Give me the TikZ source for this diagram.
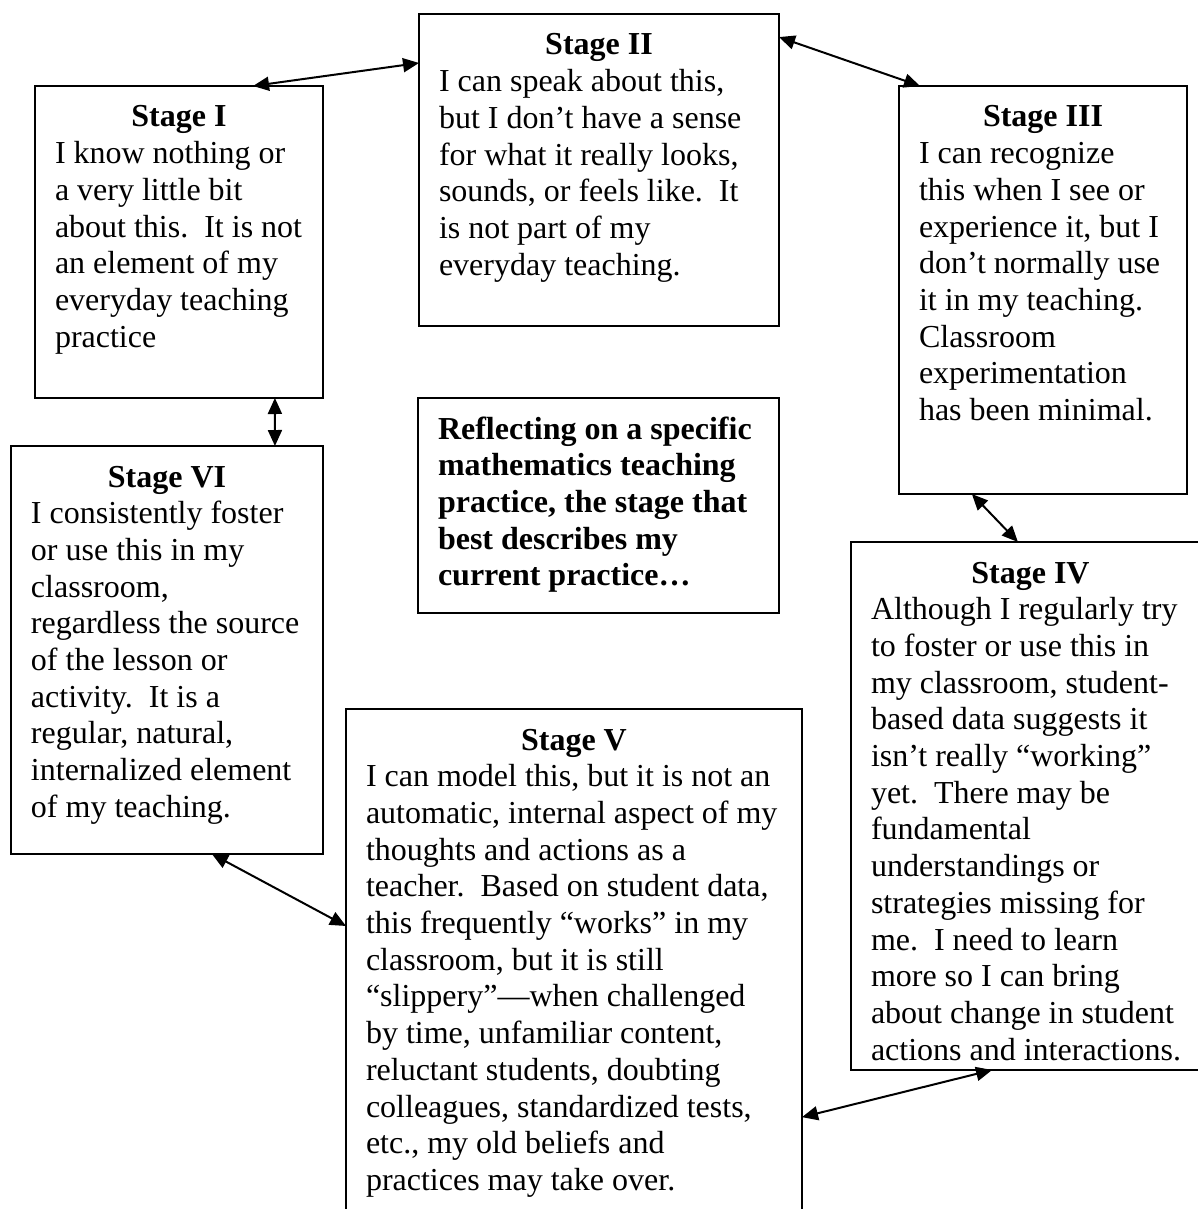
\documentclass[tikz,border=0pt]{standalone}
\usepackage{fontspec}
\setmainfont{Liberation Serif}
\usetikzlibrary{arrows.meta, calc}

\begin{document}
\begin{tikzpicture}[x=0.5pt, y=-0.5pt,
        stagebox/.style={draw, line width=1pt, outer sep=0pt, anchor=north west, align=flush left,
            inner xsep=10pt, inner ysep=0pt, text height=20.5pt,
            font=\fontsize{16}{18.35}\selectfont\frenchspacing,
            execute at begin node={\rightskip=0pt plus 1fil minus 12pt\relax}},
        link/.style={line width=1pt, {Triangle[length=8pt, width=7pt]}-{Triangle[length=8pt, width=7pt]}}]

        % Page frame
        \useasboundingbox (0,0) rectangle (1198,1209);
        \clip (0,0) rectangle (1198,1209);

        % Stage I (top left)
        \node[stagebox, text width=124pt, text depth=135.5pt] (stageI) at (35,86) {\makebox[\linewidth]{\bfseries Stage I}\\
            I know nothing or\\
            a very little bit\\
            about this.\ \ It is not\\
            an element of my\\
            everyday teaching\\
            practice};

        % Stage II (top middle)
        \node[stagebox, text width=160pt, text depth=135.5pt] (stageII) at (419,14) {\makebox[\linewidth]{\bfseries Stage II}\\
            I can speak about this,\\
            but I don't have a sense\\
            for what it really looks,\\
            sounds, or feels like.\ \ It\\
            is not part of my\\
            everyday teaching.};

        % Stage III (top right)
        \node[stagebox, text width=124pt, text depth=183.5pt] (stageIII) at (899,86) {\makebox[\linewidth]{\bfseries Stage III}\\
            I can recognize\\
            this when I see or\\
            experience it, but I\\
            don't normally use\\
            it in my teaching.\\
            Classroom\\
            experimentation\\
            has been minimal.};

        % Stage IV (bottom right, last line cut by the box)
        \begin{scope}
            \clip (851,542) rectangle (1210,1060.5);
            \node[stagebox, draw=none, text width=159.5pt, text depth=243.5pt] (stageIV) at (851,542) {\makebox[\linewidth]{\bfseries Stage IV}\\
                Although I regularly try\\
                to foster or use this in\\
                my classroom, student-\\
                based data suggests it\\
                isn't really ``working''\\
                yet.\ \ There may be\\
                fundamental\\
                understandings or\\
                strategies missing for\\
                me.\ \ I need to learn\\
                more so I can bring\\
                about change in student\\
                actions and interactions.};
        \end{scope}
        \draw[line width=1pt] (stageIV.north west) rectangle (stageIV.south east);

        % Stage V (bottom middle)
        \node[stagebox, text width=208pt, text depth=237.5pt] (stageV) at (346,709) {\makebox[\linewidth]{\bfseries Stage V}\\
            I can model this, but it is not an\\
            automatic, internal aspect of my\\
            thoughts and actions as a\\
            teacher.\ \ Based on student data,\\
            this frequently ``works'' in my\\
            classroom, but it is still\\
            ``slippery''---when challenged\\
            by time, unfamiliar content,\\
            reluctant students, doubting\\
            colleagues, standardized tests,\\
            etc., my old beliefs and\\
            practices may take over.};

        % Stage VI (middle left)
        \node[stagebox, text width=136pt, text depth=183.5pt] (stageVI) at (11,446) {\makebox[\linewidth]{\bfseries Stage VI}\\
            I consistently foster\\
            or use this in my\\
            classroom,\\
            regardless the source\\
            of the lesson or\\
            activity.\ \ It is a\\
            regular, natural,\\
            internalized element\\
            of my teaching.};

        % Question in the centre
        \node[stagebox, text width=160.5pt, text depth=87pt] (focus) at (418,398) {\bfseries
            Reflecting on a specific\\
            mathematics teaching\\
            practice, the stage that\\
            best describes my\\
            current practice\dots};

        % Two-way arrows round the cycle
        \draw[link] ($(stageI.north west)!0.757!(stageI.north east)$) -- ($(stageII.north west)!0.157!(stageII.south west)$);
        \draw[link] ($(stageII.north east)!0.074!(stageII.south east)$) -- ($(stageIII.north west)!0.073!(stageIII.north east)$);
        \draw[link] ($(stageIII.south west)!0.253!(stageIII.south east)$) -- ($(stageIV.north west)!0.465!(stageIV.north east)$);
        \draw[link] ($(stageIV.south west)!0.393!(stageIV.south east)$) -- ($(stageV.north east)!0.791!(stageV.south east)$);
        \draw[link] ($(stageV.north west)!0.4205!(stageV.south west)$) -- ($(stageVI.south west)!0.644!(stageVI.south east)$);
        \draw[link] ($(stageI.south west)!0.833!(stageI.south east)$) -- ($(stageVI.north west)!0.846!(stageVI.north east)$);

\end{tikzpicture}
\end{document}
